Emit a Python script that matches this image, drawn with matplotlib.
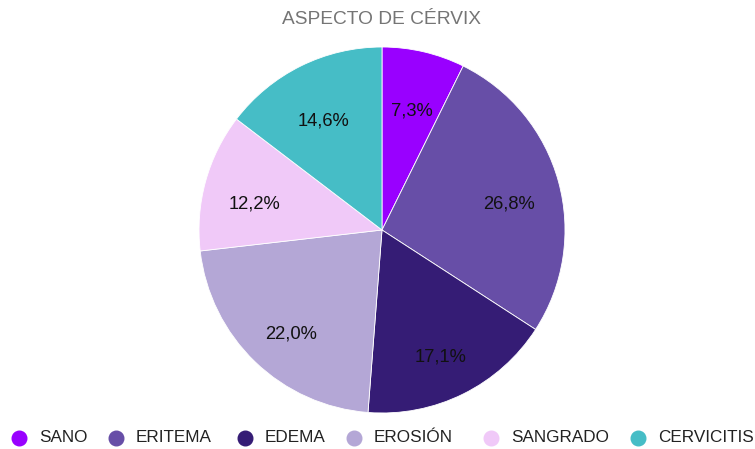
import matplotlib.pyplot as plt
from matplotlib.lines import Line2D

plt.rcParams['font.family'] = ['Liberation Sans', 'DejaVu Sans']

categorias = ['SANO', 'ERITEMA', 'EDEMA', 'EROSIÓN', 'SANGRADO', 'CERVICITIS']
casos = [3, 11, 7, 9, 5, 6]
colores = ['#9900ff', '#674ea7', '#351c75', '#b4a7d6', '#f0c9f8', '#46bdc6']

W, H = 755, 449
fig = plt.figure(figsize=(W / 100, H / 100), dpi=100)

cx, cy, r = 382, 230, 183
ax = fig.add_axes([(cx - r) / W, (H - cy - r) / H, 2 * r / W, 2 * r / H])

def fmt(p):
    return f'{p:.1f}%'.replace('.', ',')

wedges, texts, autotexts = ax.pie(
    casos, colors=colores, startangle=90, counterclock=False,
    autopct=fmt, pctdistance=0.72, radius=1,
    wedgeprops=dict(edgecolor='white', linewidth=0.6),
    textprops=dict(fontsize=13.2, color='#111111'))
# las etiquetas del original quedan un poco mas abajo
for t in autotexts:
    x, y = t.get_position()
    t.set_position((x, y - 9 / r))
ax.set_xlim(-1, 1)
ax.set_ylim(-1, 1)
ax.set_aspect('equal')

fig.text(382 / W, 1 - 19 / H, 'ASPECTO DE CÉRVIX', ha='center', va='center',
         fontsize=13.8, color='#757575')

# leyenda manual en la parte inferior
x_texto = [39, 136, 265, 374, 511, 658]
y_ley = 1 - 438 / H
for x, nombre, c in zip(x_texto, categorias, colores):
    fig.add_artist(Line2D([(x - 20) / W], [y_ley], marker='o', markersize=10.5,
                          markerfacecolor=c, markeredgecolor=c,
                          transform=fig.transFigure))
    fig.text(x / W, y_ley, nombre, ha='left', va='center',
             fontsize=12.3, color='#222222')

fig.savefig('out.png', dpi=100)
